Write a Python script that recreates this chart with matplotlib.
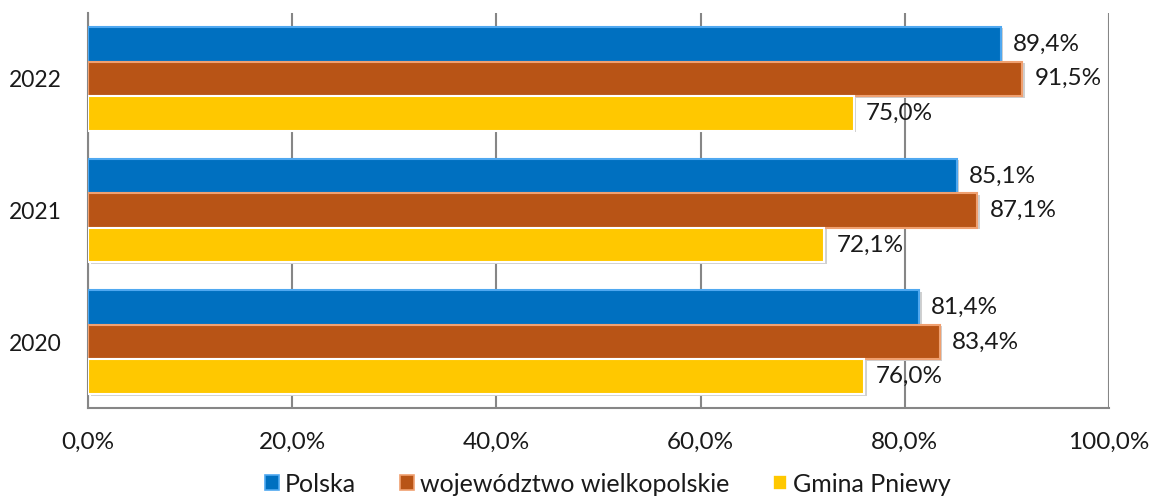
import matplotlib
matplotlib.use("Agg")
import matplotlib.pyplot as plt
import numpy as np
from matplotlib.patches import Patch

plt.rcParams['font.family'] = ['Lato', 'DejaVu Sans']

years = ["2020", "2021", "2022"]
series_names = ["Polska", "województwo wielkopolskie", "Gmina Pniewy"]
polska = [81.4, 85.1, 89.4]
wielkopolskie = [83.4, 87.1, 91.5]
pniewy = [76.0, 72.1, 75.0]
xticks = [0, 20, 40, 60, 80, 100]

colors = ["#0070C0", "#B85416", "#FFC800"]
edges = ["#4FA8F0", "#F0A070", "#FFFFFF"]
FS = 17.5

fig = plt.figure(figsize=(11.51, 4.97), dpi=100)
ax = fig.add_axes([88/1151, 1-408/497, (1109-88)/1151, (408-13)/497])

h = 0.263
y = np.arange(len(years))
data = [polska, wielkopolskie, pniewy]
offsets = [h, 0, -h]
for vals, off, c, ec in zip(data, offsets, colors, edges):
    # shadow
    ax.barh(y + off - 0.012, vals, height=h, left=0.25, color="#D0D0D0", zorder=2, linewidth=0)
    bars = ax.barh(y + off, vals, height=h, color=c, edgecolor=ec, linewidth=1.5, zorder=3)
    for b, v in zip(bars, vals):
        ax.text(v + 1.2, b.get_y() + b.get_height()/2, f"{v:.1f}%".replace(".", ","),
                va="center", ha="left", fontsize=FS, color="#1A1A1A", zorder=4)

ax.set_xlim(0, 100)
ax.set_ylim(-0.5, 2.5)
ax.set_xticks(xticks)
ax.set_xticklabels([f"{t:.1f}%".replace(".", ",") for t in xticks], fontsize=FS, color="#1A1A1A")
ax.set_yticks(y)
ax.set_yticklabels(years, fontsize=16.5, color="#1A1A1A")
ax.tick_params(axis="y", length=0, pad=19)
ax.tick_params(axis="x", length=0, pad=17)
ax.grid(axis="x", color="#868686", linewidth=1.5, zorder=1)
for s in ["top", "right"]:
    ax.spines[s].set_visible(False)
ax.spines["left"].set_color("#868686")
ax.spines["left"].set_linewidth(1.5)
ax.spines["bottom"].set_color("#868686")
ax.spines["bottom"].set_linewidth(1.5)

handles = [Patch(facecolor=c, edgecolor=ec, linewidth=1.2, label=n) for c, ec, n in zip(colors, edges, series_names)]
fig.legend(handles=handles, loc="center", bbox_to_anchor=(0.528, 1-484/497), ncol=3, frameon=False,
           fontsize=18, handlelength=0.56, handleheight=0.56, handletextpad=0.24, columnspacing=1.75,
           labelcolor="#1A1A1A")

fig.savefig("out.png", dpi=100)
